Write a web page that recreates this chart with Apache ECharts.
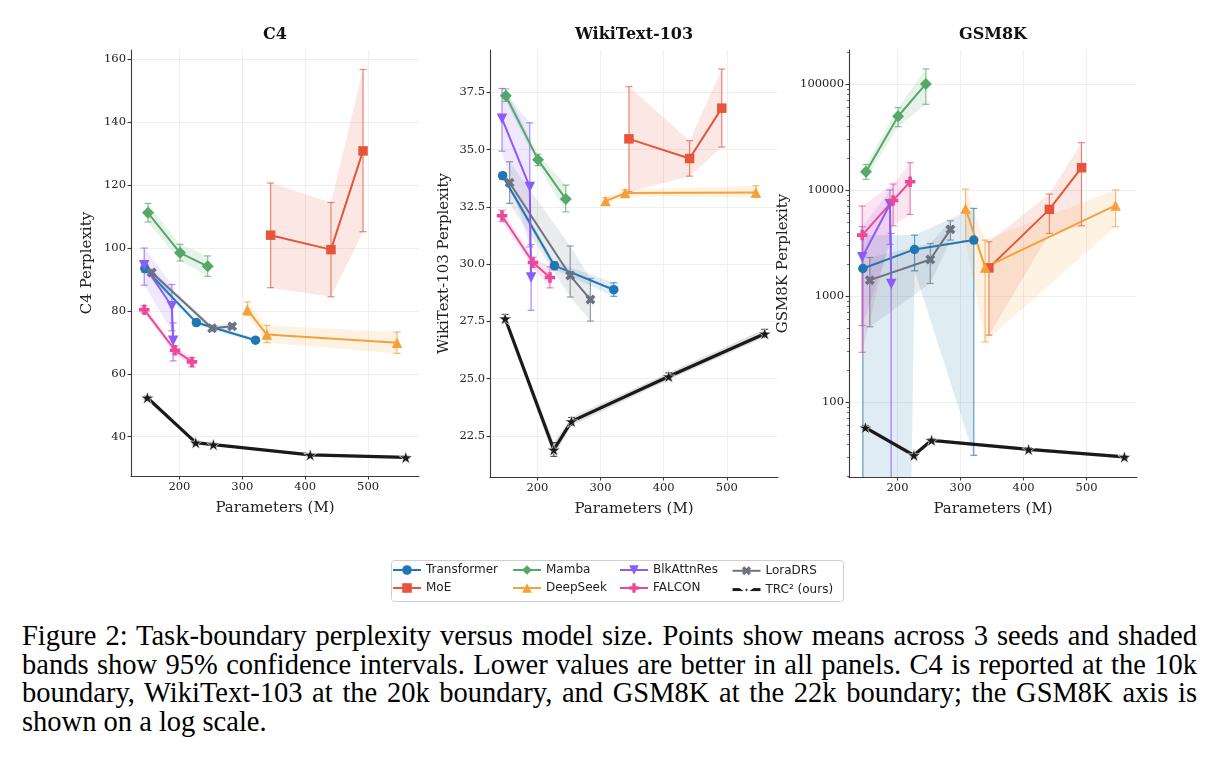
<!DOCTYPE html>
<html>
<head>
<meta charset="utf-8">
<script src="https://cdn.jsdelivr.net/npm/echarts@6.0.0/dist/echarts.min.js"></script>
<style>
    body { margin: 0; background: #fff; }
    #chartmain { position: absolute; left: 0; top: 0; width: 1219px; height: 612px; }
    #caption { position: absolute; left: 22px; top: 622px; width: 1175px;
        font-family: "Liberation Serif", "Times New Roman", serif; font-size: 28.5px; line-height: 28.5px; color: #000; }
    #caption .ln { text-align: justify; text-align-last: justify; }
</style>
</head>
<body>
<div id="chartmain"></div>
<div id="caption">
    <div class="ln">Figure 2: Task-boundary perplexity versus model size. Points show means across 3 seeds and shaded</div>
    <div class="ln">bands show 95% confidence intervals. Lower values are better in all panels. C4 is reported at the 10k</div>
    <div class="ln">boundary, WikiText-103 at the 20k boundary, and GSM8K at the 22k boundary; the GSM8K axis is</div>
    <div>shown on a log scale.</div>
</div>
<script>
// parameter counts (M) per model
var xTransformer = [145, 227, 321];
var xMoE = [345, 441, 492];
var xMamba = [150, 201, 245];
var xDeepSeek = [308, 339, 546];
var xBlkAttnRes = [144, 188, 190];
var xFalcon = [144, 193, 220];
var xLoraDRS = [156, 252, 284];
var xTRC = [149, 226, 254, 408, 560];

// rows: [mean, ci low, ci high]
// C4
var c4Transformer = [[93.5, 92.2, 94.8], [76.3, 75.5, 77.1], [70.7, 70.0, 71.4]];
var c4MoE = [[104.1, 87.4, 120.7], [99.5, 84.5, 114.5], [130.9, 105.2, 156.8]];
var c4Mamba = [[111.2, 108.3, 114.2], [98.5, 95.9, 101.2], [94.2, 91.0, 97.5]];
var c4DeepSeek = [[80.4, 78.6, 82.9], [72.5, 69.9, 75.4], [69.9, 66.5, 73.3]];
var c4BlkAttnRes = [[94.5, 88.2, 100.0], [81.5, 73.7, 88.4], [70.5, 64.1, 76.2]];
var c4Falcon = [[80.4, 79.4, 81.6], [67.5, 66.3, 68.8], [63.8, 62.2, 65.2]];
var c4LoraDRS = [[92.2, 91.2, 93.2], [74.5, 73.6, 75.4], [75.1, 74.3, 75.9]];
var c4TRC = [[52.4, 51.9, 52.9], [38.1, 37.6, 38.6], [37.5, 37.1, 37.9], [34.2, 33.8, 34.6], [33.4, 33.0, 33.8]];

// WikiText-103
var wikiTransformer = [[33.86, 33.7, 34.0], [29.93, 29.75, 30.1], [28.88, 28.59, 29.18]];
var wikiMoE = [[35.47, 33.16, 37.75], [34.61, 33.84, 35.39], [36.81, 35.11, 38.52]];
var wikiMamba = [[37.35, 37.1, 37.65], [34.56, 34.3, 34.8], [32.84, 32.28, 33.45]];
var wikiDeepSeek = [[32.75, 32.6, 32.9], [33.10, 32.95, 33.25], [33.13, 32.91, 33.42]];
var wikiBlkAttnRes = [[36.35, 34.93, 37.67], [33.37, 30.75, 36.17], [29.41, 27.98, 30.85]];
var wikiFalcon = [[32.11, 31.85, 32.35], [30.07, 29.85, 30.3], [29.41, 28.96, 29.88]];
var wikiLoraDRS = [[33.55, 32.65, 34.47], [29.50, 28.56, 30.79], [28.45, 27.51, 29.37]];
var wikiTRC = [[27.62, 27.45, 27.8], [21.89, 21.6, 22.2], [23.13, 22.95, 23.3], [25.09, 24.95, 25.25], [26.96, 26.8, 27.15]];

// GSM8K (0 = interval goes below zero)
var gsmTransformer = [[1816, 0, 3750], [2748, 1727, 3750], [3365, 31.4, 6700]];
var gsmMoE = [[1840, 427, 3245], [6556, 3890, 9143], [16218, 4592, 27930]];
var gsmMamba = [[14860, 12590, 17420], [49550, 39550, 59800], [100000, 64270, 138700]];
var gsmDeepSeek = [[6700, 3320, 10190], [1858, 369, 3365], [7145, 4496, 10000]];
var gsmBlkAttnRes = [[2317, 526, 4500], [7328, 3067, 10000], [1297, 0, 3890]];
var gsmFalcon = [[3750, 294, 7047], [7966, 4592, 11370], [11960, 5875, 18070]];
var gsmLoraDRS = [[1409, 512, 2307], [2208, 1312, 3126], [4246, 3365, 5120]];
var gsmTRC = [[57.3, 55, 60], [31.4, 30, 33], [43.5, 42, 45], [35.7, 34.5, 37], [30.3, 29.3, 31.3]];

// tick labels
var xTicks = [200, 300, 400, 500];
var c4Ticks = [40, 60, 80, 100, 120, 140, 160];
var wikiTicks = [22.5, 25, 27.5, 30, 32.5, 35, 37.5];
var gsmTicks = [100, 1000, 10000, 100000];
var gsmMinor = [];
for (var e = 1; e <= 5; e++) {
    for (var k = 2; k <= 9; k++) gsmMinor.push(k * Math.pow(10, e));
}

var serif = '"DejaVu Serif", serif';
var plusPath = 'path://M3.3,0H6.7V3.3H10V6.7H6.7V10H3.3V6.7H0V3.3H3.3Z';
var starPath = 'path://M50,0L61.2,34.5L97.6,34.5L68.2,55.9L79.4,90.5L50,69.1L20.6,90.5L31.8,55.9L2.4,34.5L38.8,34.5Z';

var models = [
    {name: 'Transformer', x: xTransformer, color: '#1f77b4', symbol: 'circle', size: 9.5, lw: 2},
    {name: 'MoE', x: xMoE, color: '#e6553a', symbol: 'rect', size: 9.5, lw: 2},
    {name: 'Mamba', x: xMamba, color: '#55a868', symbol: 'diamond', size: 12, lw: 2},
    {name: 'DeepSeek', x: xDeepSeek, color: '#f5a13a', symbol: 'triangle', size: 10.5, lw: 2},
    {name: 'BlkAttnRes', x: xBlkAttnRes, color: '#8b5cf6', symbol: 'triangle', rotate: 180, size: 10.5, lw: 2},
    {name: 'FALCON', x: xFalcon, color: '#ec4899', symbol: plusPath, size: 10.5, lw: 2},
    {name: 'LoraDRS', x: xLoraDRS, color: '#6b7280', symbol: plusPath, rotate: 45, size: 10.5, lw: 2},
    {name: 'TRC² (ours)', x: xTRC, color: '#1a1a1a', symbol: starPath, size: 13, lw: 3.2, edge: '#ffffff'}
];

var panels = [
    {title: 'C4', rows: [c4Transformer, c4MoE, c4Mamba, c4DeepSeek, c4BlkAttnRes, c4Falcon, c4LoraDRS, c4TRC]},
    {title: 'WikiText-103', rows: [wikiTransformer, wikiMoE, wikiMamba, wikiDeepSeek, wikiBlkAttnRes, wikiFalcon, wikiLoraDRS, wikiTRC]},
    {title: 'GSM8K', rows: [gsmTransformer, gsmMoE, gsmMamba, gsmDeepSeek, gsmBlkAttnRes, gsmFalcon, gsmLoraDRS, gsmTRC], log: true}
];

var grids = [
    {left: 131, top: 50, width: 288, height: 426},
    {left: 490, top: 50, width: 288, height: 427},
    {left: 849, top: 50, width: 288, height: 427}
];

function lowFix(v, isLog) {
    return (isLog && v <= 0) ? 1e-30 : v;
}

function bandSeries(m, rows, gi, isLog) {
    return {
        type: 'custom', name: m.name + ' band', xAxisIndex: gi, yAxisIndex: gi,
        clip: true, silent: true, z: 2,
        encode: {x: 0, y: 1},
        data: m.x.map(function (x, i) { return [x, rows[i][0]]; }),
        renderItem: function (params, api) {
            var i = params.dataIndex;
            if (i >= m.x.length - 1) return;
            var a = rows[i], b = rows[i + 1];
            var pts = [
                api.coord([m.x[i], lowFix(a[1], isLog)]),
                api.coord([m.x[i + 1], lowFix(b[1], isLog)]),
                api.coord([m.x[i + 1], b[2]]),
                api.coord([m.x[i], a[2]])
            ];
            return {type: 'polygon', shape: {points: pts}, style: {fill: m.color, opacity: 0.14}};
        }
    };
}

function errSeries(m, rows, gi, isLog) {
    return {
        type: 'custom', name: m.name + ' err', xAxisIndex: gi, yAxisIndex: gi,
        clip: true, silent: true, z: 2,
        encode: {x: 0, y: 1},
        data: m.x.map(function (x, i) { return [x, rows[i][0]]; }),
        renderItem: function (params, api) {
            var i = params.dataIndex;
            var hi = api.coord([m.x[i], rows[i][2]]);
            var lo = api.coord([m.x[i], lowFix(rows[i][1], isLog)]);
            var w = 3.5;
            var st = {stroke: m.color, lineWidth: 1.2, opacity: 0.7};
            return {type: 'group', children: [
                {type: 'line', shape: {x1: hi[0], y1: hi[1], x2: lo[0], y2: lo[1]}, style: st},
                {type: 'line', shape: {x1: hi[0] - w, y1: hi[1], x2: hi[0] + w, y2: hi[1]}, style: st},
                {type: 'line', shape: {x1: lo[0] - w, y1: lo[1], x2: lo[0] + w, y2: lo[1]}, style: st}
            ]};
        }
    };
}

function lineSeries(m, rows, gi) {
    return {
        type: 'line', name: m.name, xAxisIndex: gi, yAxisIndex: gi, z: 2,
        data: m.x.map(function (x, i) { return [x, rows[i][0]]; }),
        symbol: m.symbol, symbolSize: m.size, symbolRotate: m.rotate || 0, symbolKeepAspect: true,
        showSymbol: true,
        lineStyle: {color: m.color, width: m.lw},
        itemStyle: {color: m.color, borderColor: m.edge || m.color, borderWidth: m.edge ? 0.6 : 0},
        emphasis: {disabled: true}
    };
}

var series = [];
panels.forEach(function (p, gi) {
    models.forEach(function (m, k) {
        series.push(bandSeries(m, p.rows[k], gi, p.log));
        series.push(errSeries(m, p.rows[k], gi, p.log));
        series.push(lineSeries(m, p.rows[k], gi));
    });
});

var axisLineStyle = {color: '#3a3a3a', width: 1.1};
var labelStyle = {fontFamily: serif, fontSize: 11.5, color: '#222'};
var nameStyle = {fontFamily: serif, fontSize: 15, color: '#222'};
var gridLine = {show: true, lineStyle: {color: '#ebebeb', width: 0.8}};

function xAxis(gi, min, max) {
    return {
        type: 'value', gridIndex: gi, min: min, max: max,
        name: 'Parameters (M)', nameLocation: 'middle', nameGap: 25, nameTextStyle: nameStyle,
        axisLine: {lineStyle: axisLineStyle},
        axisTick: {customValues: xTicks, length: 3.5, lineStyle: axisLineStyle},
        axisLabel: Object.assign({customValues: xTicks, margin: 5}, labelStyle),
        splitLine: gridLine
    };
}

function yAxis(gi, min, max, ticks, name, gap, fmt, log) {
    return {
        type: log ? 'log' : 'value', logBase: 10, gridIndex: gi, min: min, max: max, position: 'left',
        name: name, nameLocation: 'middle', nameGap: gap, nameTextStyle: nameStyle,
        axisLine: {show: true, lineStyle: axisLineStyle},
        axisTick: {show: true, customValues: ticks, length: 3.5, lineStyle: axisLineStyle},
        axisLabel: Object.assign({customValues: ticks, margin: 5, formatter: fmt}, labelStyle),
        splitLine: gridLine
    };
}

var option = {
    animation: false,
    backgroundColor: '#fff',
    title: panels.map(function (p, gi) {
        return {
            text: p.title, left: grids[gi].left + grids[gi].width / 2, top: 27, textAlign: 'center', padding: 0,
            textStyle: {fontFamily: serif, fontWeight: 'bold', fontSize: 16, color: '#111'}
        };
    }),
    grid: grids.map(function (g) {
        return Object.assign({containLabel: false, outerBoundsMode: 'none'}, g);
    }),
    xAxis: [xAxis(0, 123, 581), xAxis(1, 125, 581), xAxis(2, 123, 580)],
    yAxis: [
        yAxis(0, 27.5, 163, c4Ticks, 'C4 Perplexity', 36, function (v) { return String(v); }),
        yAxis(1, 20.7, 39.35, wikiTicks, 'WikiText-103 Perplexity', 38, function (v) { return v.toFixed(1); }),
        yAxis(2, 19.6, 209000, gsmTicks, 'GSM8K Perplexity', 58, function (v) { return String(Math.round(v)); }, true),
        {
            type: 'log', logBase: 10, gridIndex: 2, min: 19.6, max: 209000, position: 'left', offset: 0,
            axisLine: {show: false}, axisLabel: {show: false}, splitLine: {show: false},
            axisTick: {show: true, customValues: gsmMinor, length: 2, lineStyle: {color: '#3a3a3a', width: 0.8}}
        }
    ],
    legend: [
        ['Transformer', 'MoE'], ['Mamba', 'DeepSeek'], ['BlkAttnRes', 'FALCON'], ['LoraDRS', 'TRC² (ours)']
    ].map(function (names, c) {
        return {
            data: names.map(function (n) {
                return n === 'TRC² (ours)' ? {name: n, lineStyle: {width: 3}} : {name: n};
            }),
            left: [392, 512, 619, 731][c], top: 564, orient: 'vertical',
            itemGap: 6, itemWidth: 28, itemHeight: 12, padding: 0, selectedMode: false,
            textStyle: {fontFamily: '"DejaVu Sans", sans-serif', fontSize: 12, color: '#222'}
        };
    }),
    graphic: [{
        type: 'rect', left: 389, top: 558, z: 0, silent: true,
        shape: {width: 452, height: 41, r: 3},
        style: {fill: 'none', stroke: '#cfcfcf', lineWidth: 1}
    }],
    series: series
};

var myChart = echarts.init(document.getElementById('chartmain'));
myChart.setOption(option);
</script>
</body>
</html>
